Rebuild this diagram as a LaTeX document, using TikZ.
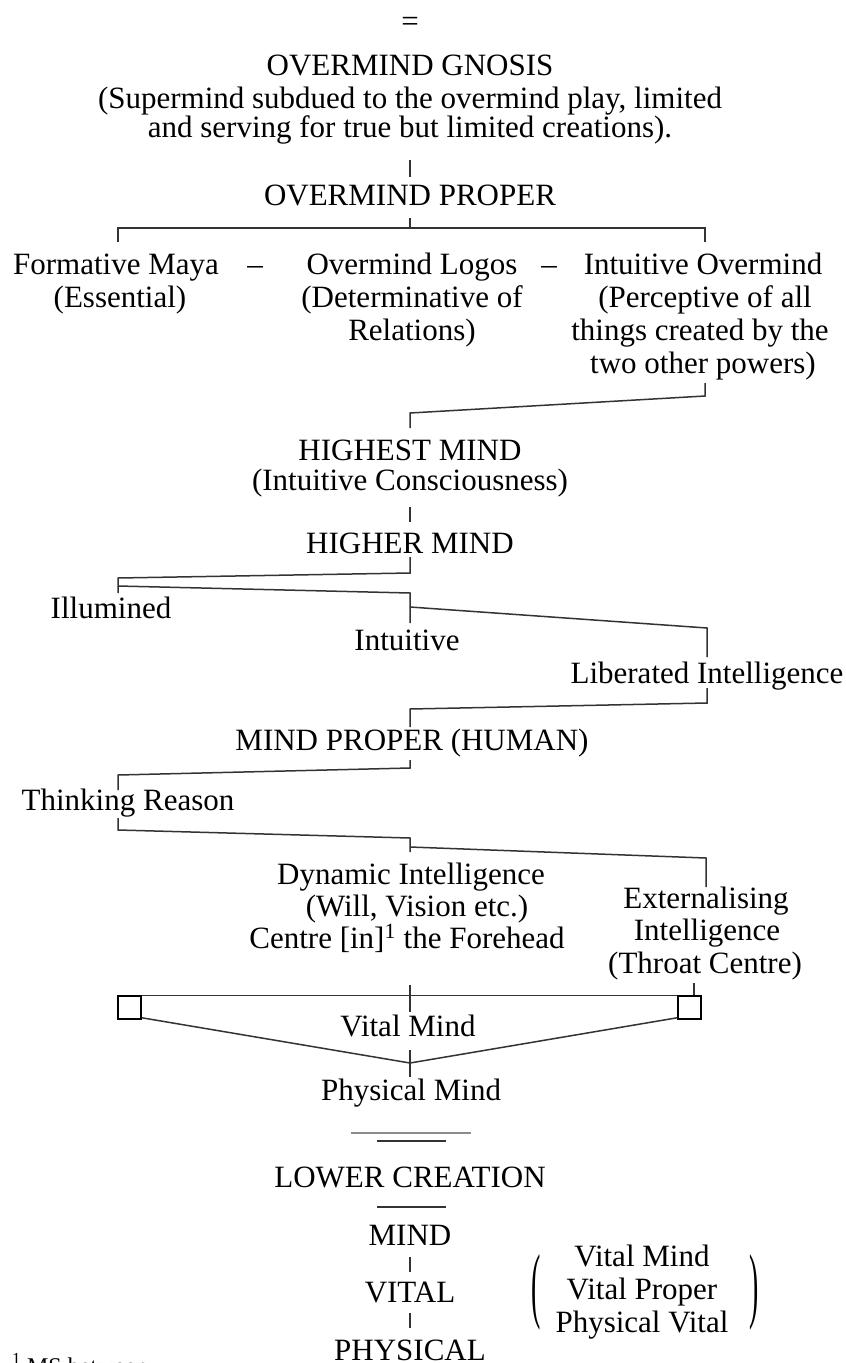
\documentclass[tikz,border=0pt]{standalone}
\usepackage{fontspec}
\usepackage{graphicx}
\setmainfont{Liberation Serif}
\usetikzlibrary{calc}
\tikzset{
  lbl/.style={font=\fontsize{31}{33}\selectfont, anchor=base, inner sep=0pt, text=black},
  conn/.style={line width=1.5pt, draw=black!80},
  sq/.style={draw=black, line width=1.5pt, minimum size=23pt, inner sep=0pt},
  sep/.style={line width=2pt, draw=black!80}
}
\begin{document}
\begin{tikzpicture}[x=1pt,y=-1pt]
\useasboundingbox (0,0) rectangle (846,1363);
% top
\node[lbl, font=\fontsize{31}{31}\selectfont] (eq) at (410,31) {=};
\node[lbl] (gn1) at (410,75) {OVERMIND GNOSIS};
\node[lbl] (gn2) at (410,108) {(Supermind subdued to the overmind play, limited};
\node[lbl] (gn3) at (410,137) {and serving for true but limited creations).};
\node[lbl] (op) at (410,205) {OVERMIND PROPER};
% three powers
\node[lbl] (fm1) at (116,274) {Formative Maya};
\node[lbl] (fm2) at (120,307) {(Essential)};
\node[lbl] (d1) at (255,274) {–};
\node[lbl] (ol1) at (412,274) {Overmind Logos};
\node[lbl] (ol2) at (412,307) {(Determinative of};
\node[lbl] (ol3) at (412,340) {Relations)};
\node[lbl] (d2) at (549,274) {–};
\node[lbl] (io1) at (703,274) {Intuitive Overmind};
\node[lbl] (io2) at (705,307) {(Perceptive of all};
\node[lbl] (io3) at (700,340) {things created by the};
\node[lbl] (io4) at (703,373) {two other powers)};
% highest / higher
\node[lbl] (hm1) at (410,460) {HIGHEST MIND};
\node[lbl] (hm2) at (410,490) {(Intuitive Consciousness)};
\node[lbl] (hr) at (410,553) {HIGHER MIND};
\node[lbl] (il) at (111,618) {Illumined};
\node[lbl] (it) at (407,650) {Intuitive};
\node[lbl] (li) at (707,683) {Liberated Intelligence};
\node[lbl] (mp) at (412,750) {MIND PROPER (HUMAN)};
\node[lbl] (tr) at (128,810) {Thinking Reason};
\node[lbl] (di1) at (411,884) {Dynamic Intelligence};
\node[lbl] (di2) at (417,916) {(Will, Vision etc.)};
\node[lbl] (di3) at (407,948) {Centre [in]\textsuperscript{1} the Forehead};
\node[lbl] (ex1) at (706,908) {Externalising};
\node[lbl] (ex2) at (707,940) {Intelligence};
\node[lbl] (ex3) at (705,973) {(Throat Centre)};
\node[sq] (bl) at (129.5,1007.5) {};
\node[sq] (br) at (689.5,1007.5) {};
\node[lbl] (vm) at (408,1036) {Vital Mind};
\node[lbl] (pm) at (411,1100) {Physical Mind};
% lower creation
\node[lbl] (lc) at (410,1187) {LOWER CREATION};
\node[lbl] (mi) at (410,1245) {MIND};
\node[lbl] (vi) at (410,1302) {VITAL};
\node[lbl] (ph) at (410,1360) {PHYSICAL};
\node[lbl] (rv1) at (642,1266) {Vital Mind};
\node[lbl] (rv2) at (642,1299) {Vital Proper};
\node[lbl] (rv3) at (642,1332) {Physical Vital};
\node[inner sep=0pt, font=\fontsize{31}{33}\selectfont] (lp) at (536,1292) {\scalebox{0.9}[2.7]{(}};
\node[inner sep=0pt, font=\fontsize{31}{33}\selectfont] (rp) at (754,1292) {\scalebox{0.9}[2.7]{)}};
\node[lbl, font=\fontsize{24}{26}\selectfont, anchor=base west] (fn) at (12,1374) {\textsuperscript{1} MS between};
% connectors
\draw[conn] ($(gn3.base)+(0,23)$) -- ($(op.base)+(0,-28)$);
\draw[conn] ($(op.base)+(0,13)$) -- ($(op.base)+(0,23)$);
\draw[conn] ($(fm1.base)+(2,-32)$) -- ($(fm1.base)+(2,-46)$) -- ($(io1.base)+(2,-46)$) -- ($(io1.base)+(2,-32)$);
\draw[conn] ($(io4.base)+(2,10)$) -- ($(io4.base)+(2,23)$) -- ($(hm1.base)+(0,-47)$) -- ($(hm1.base)+(0,-32)$);
\draw[conn] ($(hm2.base)+(0,17)$) -- ($(hr.base)+(0,-31)$);
\draw[conn] ($(hr.base)+(0,4)$) -- ($(hr.base)+(0,20)$) -- ($(il.base)+(7,-40)$) -- ($(il.base)+(7,-25)$);
\draw[conn] ($(il.base)+(7,-32)$) -- ($(it.base)+(3,-57)$) -- ($(it.base)+(3,-27)$);
\draw[conn] ($(it.base)+(3,-43)$) -- ($(li.base)+(0,-55)$) -- ($(li.base)+(0,-26)$);
\draw[conn] ($(li.base)+(0,5)$) -- ($(li.base)+(0,20)$) -- ($(mp.base)+(-2,-41)$) -- ($(mp.base)+(-2,-23)$);
\draw[conn] ($(mp.base)+(-2,10)$) -- ($(mp.base)+(-2,18)$) -- ($(tr.base)+(-10,-35)$) -- ($(tr.base)+(-10,-20)$);
\draw[conn] ($(tr.base)+(-10,8)$) -- ($(tr.base)+(-10,20)$) -- ($(di1.base)+(-1,-46)$) -- ($(di1.base)+(-1,-32)$);
\draw[conn] ($(di1.base)+(-1,-37)$) -- ($(ex1.base)+(0,-50)$) -- ($(ex1.base)+(0,-21)$);
\draw[conn] ($(ex3.base)+(-11,10)$) -- ($(br.north)+(4.5,0)$);
\draw[conn] (bl.north east) -- (br.north west);
\draw[conn] ($(di3.base)+(3,37)$) -- ($(vm.base)+(2,-24)$);
\draw[conn] ($(bl.south east)+(0,-2)$) -- ($(pm.base)+(-1,-37)$) -- ($(br.south west)+(0,-2)$);
\draw[conn] ($(pm.base)+(-1,-50)$) -- ($(pm.base)+(-1,-23)$);
\draw[conn] ($(mi.base)+(0,12)$) -- ($(vi.base)+(0,-30)$);
\draw[conn] ($(vi.base)+(0,11)$) -- ($(ph.base)+(0,-32)$);
% separators
\draw[line width=2.5pt, draw=black!45] (351,1133) -- (471,1133);
\draw[sep] (377,1141) -- (446,1141);
\draw[sep] (377,1207) -- (446,1207);
\end{tikzpicture}
\end{document}
